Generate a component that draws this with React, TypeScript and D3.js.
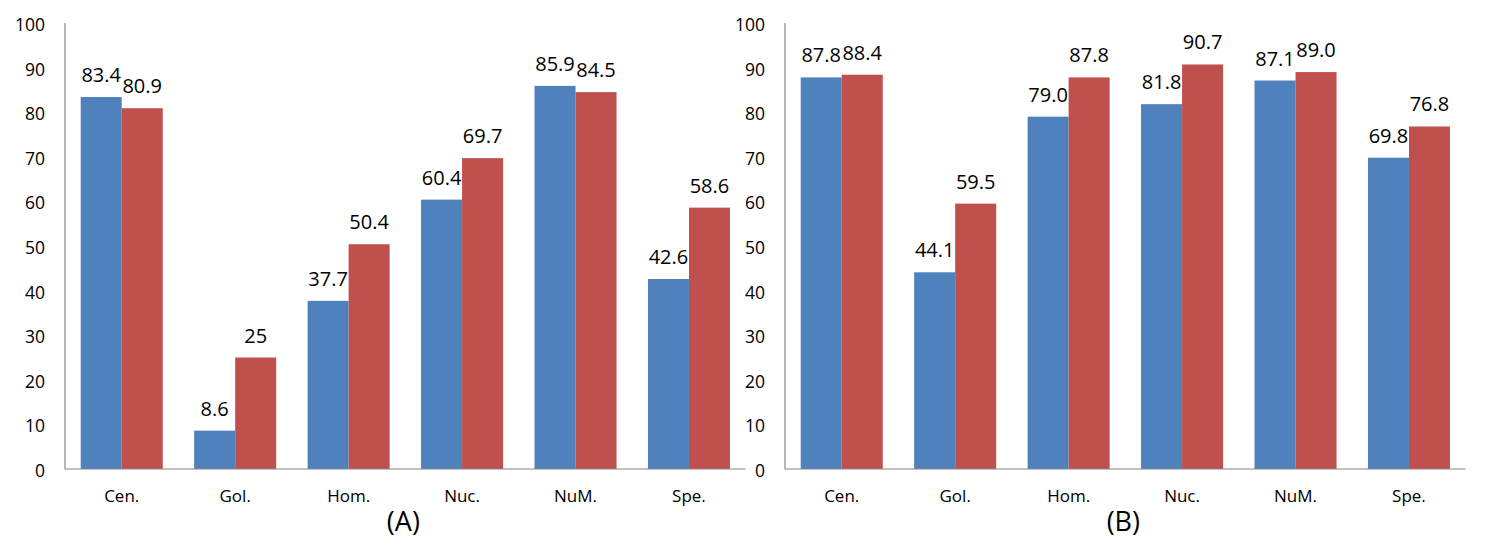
import React from "react";
import * as d3 from "d3";

const categories = ["Cen.", "Gol.", "Hom.", "Nuc.", "NuM.", "Spe."];
const seriesA1 = [83.4, 8.6, 37.7, 60.4, 85.9, 42.6];
const seriesA2 = [80.9, 25, 50.4, 69.7, 84.5, 58.6];
const seriesB1 = [87.8, 44.1, 79.0, 81.8, 87.1, 69.8];
const seriesB2 = [88.4, 59.5, 87.8, 90.7, 89.0, 76.8];
const yTicks = [0, 10, 20, 30, 40, 50, 60, 70, 80, 90, 100];
const panelTitles = ["(A)", "(B)"];

const BLUE = "#4F81BD";
const RED = "#C0504D";
const AXIS = "#868686";
const FONT = "'Open Sans', 'Noto Sans', sans-serif";

type PanelProps = {
  x0: number;
  x1: number;
  s1: number[];
  s2: number[];
  fmt: (v: number) => string;
  title: string;
};

const yScale = d3.scaleLinear().domain([0, 100]).range([469, 23]);

function Panel({ x0, x1, s1, s2, fmt, title }: PanelProps) {
  const x = d3.scaleBand<string>().domain(categories).range([x0, x1]).paddingInner(0.277).paddingOuter(0.1385);
  const inner = d3.scaleBand<number>().domain([0, 1]).range([0, x.bandwidth()]);
  const series = [s1, s2];
  const colors = [BLUE, RED];
  return (
    <g>
      {yTicks.map((t) => (
        <text key={t} x={x0 - 20} y={yScale(t) + 1} textAnchor="end" dominantBaseline="central" fontSize={17.5} fontFamily={FONT} fill="#000">
          {t}
        </text>
      ))}
      {series.map((s, si) =>
        s.map((v, i) => {
          const bx = (x(categories[i]) as number) + (inner(si) as number);
          const y = yScale(v);
          return (
            <g key={`${si}-${i}`}>
              <rect x={bx} y={y} width={inner.bandwidth()} height={yScale(0) - y} fill={colors[si]} />
              <text x={bx + inner.bandwidth() / 2} y={y - 15} textAnchor="middle" fontSize={20} fontFamily={FONT} fill="#000">
                {fmt(v)}
              </text>
            </g>
          );
        })
      )}
      <line x1={x0} x2={x0} y1={yScale(100)} y2={yScale(0)} stroke={AXIS} strokeWidth={1.2} />
      <line x1={x0} x2={x1} y1={yScale(0)} y2={yScale(0)} stroke={AXIS} strokeWidth={1.2} />
      {categories.map((c) => (
        <text key={c} x={(x(c) as number) + x.bandwidth() / 2} y={502} textAnchor="middle" fontSize={17} fontFamily={FONT} fill="#000">
          {c}
        </text>
      ))}
      <text x={(x0 + x1) / 2 - 2} y={531} textAnchor="middle" fontSize={27} fontFamily={FONT} fill="#000">
        {title}
      </text>
    </g>
  );
}

export default function App() {
  return (
    <div style={{ position: "absolute", left: 0, top: 0 }}>
      <svg width={1488} height={559} style={{ display: "block", background: "#fff" }}>
        <Panel x0={65} x1={745.7} s1={seriesA1} s2={seriesA2} fmt={(v) => String(v)} title={panelTitles[0]} />
        <Panel x0={785} x1={1465.7} s1={seriesB1} s2={seriesB2} fmt={(v) => v.toFixed(1)} title={panelTitles[1]} />
      </svg>
    </div>
  );
}
